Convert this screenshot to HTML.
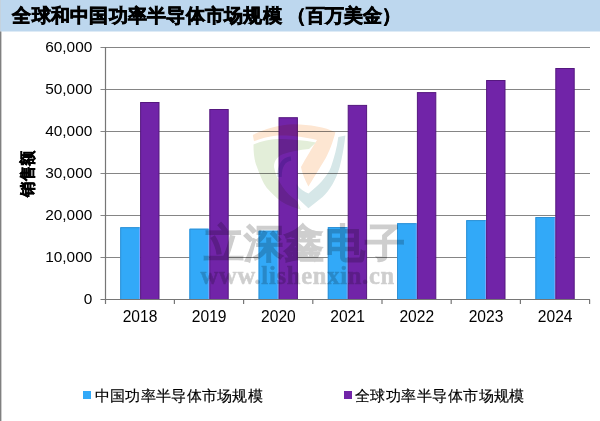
<!DOCTYPE html>
<html><head><meta charset="utf-8">
<style>
html,body{margin:0;padding:0;background:#fff;}
body{width:600px;height:421px;overflow:hidden;position:relative;font-family:"Liberation Sans",sans-serif;}
svg{position:absolute;left:0;top:0;}
</style></head>
<body>
<svg width="600" height="421" viewBox="0 0 600 421" font-family="Liberation Sans, sans-serif">
  <!-- title bar -->
  <rect x="0" y="0" width="600" height="31.5" fill="#bdd7ee"/>
  <g font-size="19.3" font-weight="bold" fill="#000" stroke="#000" stroke-width="0.7">
    <text x="12.3" y="22.3" font-size="18.8" letter-spacing="0.25">全球和中国功率半导体市场规模</text>
    <text x="286.6" y="21.6">（</text>
    <text x="305.8" y="21.6">百万美金</text>
    <text x="381.5" y="21.6">）</text>
  </g>
  <!-- left border -->
  <rect x="0" y="0" width="1" height="31.5" fill="#c4d2de"/>
  <rect x="0" y="31.5" width="1" height="390" fill="#808080"/>
  <rect x="1" y="31.5" width="0.4" height="390" fill="#808080"/>

  <!-- gridlines -->
  <g stroke="#858585" stroke-width="1.1">
    <line x1="100.5" y1="47.5" x2="590" y2="47.5"/>
    <line x1="100.5" y1="89.5" x2="590" y2="89.5"/>
    <line x1="100.5" y1="131.5" x2="590" y2="131.5"/>
    <line x1="100.5" y1="173.5" x2="590" y2="173.5"/>
    <line x1="100.5" y1="215.5" x2="590" y2="215.5"/>
    <line x1="100.5" y1="257.5" x2="590" y2="257.5"/>
  </g>

  <!-- bars -->
  <g fill="#32a9f8">
    <rect x="120.2" y="227.2" width="19.9" height="72.3"/>
    <rect x="189.4" y="228.7" width="19.9" height="70.8"/>
    <rect x="258.6" y="230.7" width="19.9" height="68.8"/>
    <rect x="327.8" y="227.0" width="19.9" height="72.5"/>
    <rect x="397.0" y="223.2" width="19.9" height="76.3"/>
    <rect x="466.2" y="220.1" width="19.9" height="79.4"/>
    <rect x="535.4" y="217.0" width="19.9" height="82.5"/>
  </g>
  <g fill="none" stroke="#3092d6" stroke-width="1">
    <path d="M120.7 299.5 V227.7 H139.1"/>
    <path d="M189.9 299.5 V229.2 H208.3"/>
    <path d="M259.1 299.5 V231.2 H277.5"/>
    <path d="M328.3 299.5 V227.5 H346.7"/>
    <path d="M397.5 299.5 V223.7 H415.9"/>
    <path d="M466.7 299.5 V220.6 H485.1"/>
    <path d="M535.9 299.5 V217.5 H554.3"/>
  </g>
  <g fill="none" stroke="#70a8ff" stroke-width="1">
    <path d="M139.5 228.2 V299.5"/>
    <path d="M208.7 229.7 V299.5"/>
    <path d="M277.9 231.7 V299.5"/>
    <path d="M347.1 228.0 V299.5"/>
    <path d="M416.3 224.2 V299.5"/>
    <path d="M485.5 221.1 V299.5"/>
    <path d="M554.7 218.0 V299.5"/>
  </g>
  <g fill="#7124a8" stroke="#55187f" stroke-width="1">
    <rect x="140.6" y="102.5" width="18.4" height="197.0"/>
    <rect x="209.8" y="109.5" width="18.4" height="190.0"/>
    <rect x="279.0" y="117.7" width="18.4" height="181.8"/>
    <rect x="348.2" y="105.4" width="18.4" height="194.1"/>
    <rect x="417.4" y="92.6" width="18.4" height="206.9"/>
    <rect x="486.6" y="80.5" width="18.4" height="219.0"/>
    <rect x="555.8" y="68.5" width="18.4" height="231.0"/>
  </g>

  <!-- axes -->
  <g stroke="#767676" stroke-width="1.2">
    <line x1="105.5" y1="47" x2="105.5" y2="304"/>
    <line x1="100.5" y1="299.5" x2="590" y2="299.5"/>
    <line x1="174.4" y1="299.5" x2="174.4" y2="304"/>
    <line x1="243.6" y1="299.5" x2="243.6" y2="304"/>
    <line x1="312.8" y1="299.5" x2="312.8" y2="304"/>
    <line x1="382.0" y1="299.5" x2="382.0" y2="304"/>
    <line x1="451.2" y1="299.5" x2="451.2" y2="304"/>
    <line x1="520.4" y1="299.5" x2="520.4" y2="304"/>
    <line x1="589.6" y1="299.5" x2="589.6" y2="304"/>
  </g>

  <!-- y labels -->
  <g font-size="15.4" fill="#000" text-anchor="end">
    <text x="92.3" y="52.4">60,000</text>
    <text x="92.3" y="94.4">50,000</text>
    <text x="92.3" y="136.4">40,000</text>
    <text x="92.3" y="178.4">30,000</text>
    <text x="92.3" y="220.4">20,000</text>
    <text x="92.3" y="262.4">10,000</text>
    <text x="92.3" y="304.4">0</text>
  </g>
  <!-- x labels -->
  <g font-size="15.6" fill="#000" text-anchor="middle">
    <text x="140" y="322">2018</text>
    <text x="209.2" y="322">2019</text>
    <text x="278.4" y="322">2020</text>
    <text x="347.6" y="322">2021</text>
    <text x="416.8" y="322">2022</text>
    <text x="486" y="322">2023</text>
    <text x="555.2" y="322">2024</text>
  </g>
  <!-- y axis title -->
  <text transform="translate(33,173.6) rotate(-90) scale(0.955,1)" font-size="16" font-weight="bold" text-anchor="middle" fill="#000" stroke="#000" stroke-width="0.5">销售额</text>


  <!-- watermark -->
  <g opacity="1">
    <g fill="none" stroke-linecap="butt" style="mix-blend-mode:multiply">
      <path d="M252.8 135 C262 130 280 124 294 124.2 C310 124.5 325 127 335.4 132.2 C333 142 329 152 325.5 158.4 L308.4 186.4 C305 180 302 173 301 167 C306 158 312 148 317 140 C305 137 290 135 277 135.6 C268 136.5 260 139 254 141.3 Z" fill="#fde6d2"/>
      <path d="M253.5 144.5 C262 141 270 139.5 277 139 C290 139 305 140.5 316 142.5 L309 149 C300 150 290 151.5 282 154.5 C277 157 274 161 274 167 C275 173 278 180 282.7 187 C286 192 291 197 297 201 L301 209.7 C295 208 290 206 285.6 204 C280 201 275 197 268.5 189.8 C264 185 261 178 257 167 C254 160 253.5 152 253.5 144.5 Z" fill="#e3eed9"/>
      <path d="M345.4 135.6 C344 148 342 158 339.7 167 C336 180 330 190 322.6 197 L308.4 208.3 L297.5 198 L296.5 184 C300 189 304 192 308.5 193.5 C318 186 327 177 331 167 C334 158 337 148 338.3 137 Z" fill="#d6e7e8"/>
      <path d="M291 158.5 Q279.5 160 279.5 177" stroke="#d0dce8" stroke-width="4.5"/>
    </g>
    <g opacity="0.19" fill="#000" stroke="#000">
      <text x="204" y="257.2" font-size="39.5" font-weight="bold" stroke-width="0.9" letter-spacing="0.2">立深鑫电子</text>
      <text x="200.5" y="283.5" font-family="Liberation Serif, serif" font-size="24.5" font-weight="bold" stroke-width="0.6" letter-spacing="0.75">www.lishenxin.cn</text>
    </g>
  </g>

  <!-- legend -->
  <rect x="83" y="391" width="8" height="8" fill="#32a9f8"/>
  <text x="94.6" y="401" font-size="15" letter-spacing="0.32" fill="#000" stroke="#000" stroke-width="0.18">中国功率半导体市场规模</text>
  <rect x="344" y="391" width="8" height="8" fill="#7124a8"/>
  <text x="355" y="401" font-size="15" letter-spacing="0.45" fill="#000" stroke="#000" stroke-width="0.18">全球功率半导体市场规模</text>
</svg>
</body></html>
